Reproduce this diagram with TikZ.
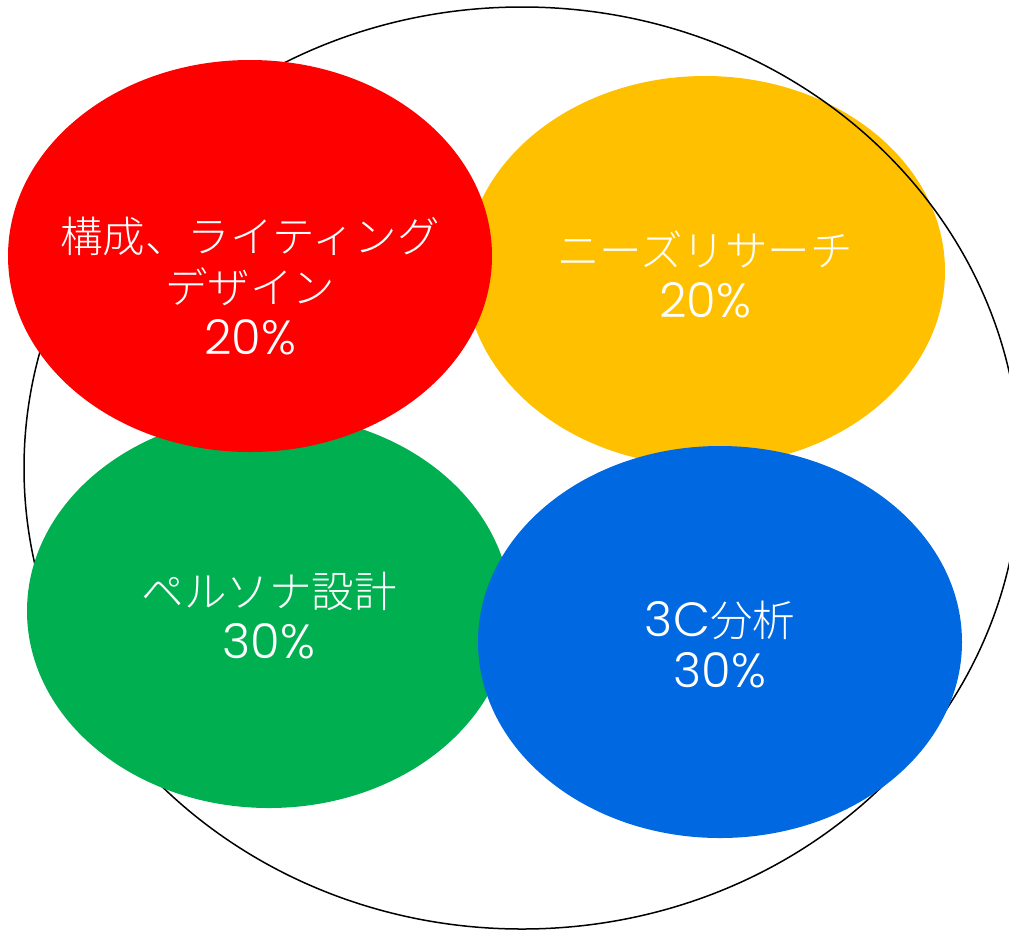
\documentclass[tikz,border=0pt]{standalone}
\usepackage{fontspec}
\newfontfamily\jp{Noto Sans CJK JP Light}
\newfontfamily\num{Poppins Light}
\usetikzlibrary{shapes.geometric}
\definecolor{cred}{RGB}{255,0,0}
\definecolor{cyellow}{RGB}{255,192,0}
\definecolor{cgreen}{RGB}{0,176,80}
\definecolor{cblue}{RGB}{0,104,224}
\newcommand\pct[1]{{\num\fontsize{48}{51}\selectfont #1}}
\begin{document}
\begin{tikzpicture}[x=1pt,y=-1pt,
  blob/.style={ellipse, inner sep=0pt, draw=none},
  lbl/.style={text=white, font=\jp\fontsize{42.5}{51}\selectfont, align=center, inner sep=0pt}]
\useasboundingbox (0,0) rectangle (1009,930);
\node[blob, fill=cyellow, minimum width=480pt, minimum height=390pt] (yellow) at (705,271) {};
\node[draw=black, ellipse, inner sep=0pt, line width=1.5pt, minimum width=996pt, minimum height=922pt] (outer) at (522,468) {};
\node[blob, fill=cgreen, minimum width=484pt, minimum height=394pt] (green) at (269,611) {};
\node[blob, fill=cred, minimum width=484pt, minimum height=392pt] (red) at (250,256) {};
\node[blob, fill=cblue, minimum width=484pt, minimum height=392pt] (blue) at (720,642) {};
\node[lbl] (tred) at ([yshift=-30pt]red.center) {構成、ライティング\\デザイン\\\pct{20\%}};
\node[lbl] (tyellow) at ([yshift=-3pt]yellow.center) {ニーズリサーチ\\\pct{20\%}};
\node[lbl] (tgreen) at ([yshift=-5pt]green.center) {ペルソナ設計\\\pct{30\%}};
\node[lbl] (tblue) at ([yshift=-3pt]blue.center) {\pct{3C}分析\\\pct{30\%}};
\end{tikzpicture}
\end{document}
